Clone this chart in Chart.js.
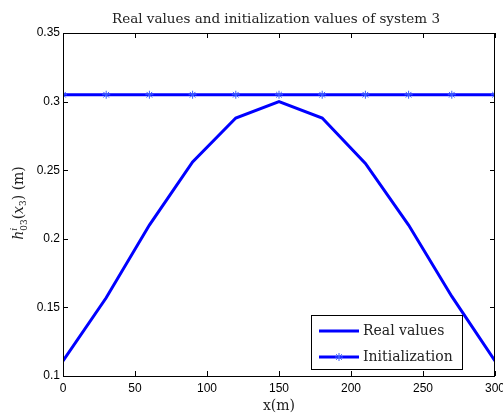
<!DOCTYPE html>
<html>
<head>
<meta charset="utf-8">
<script src="https://cdn.jsdelivr.net/npm/chart.js@4/dist/chart.umd.min.js"></script>
<style>
  html, body { margin: 0; padding: 0; background: #fff; }
  #wrap { width: 503px; height: 417px; }
</style>
</head>
<body>
<div id="wrap"><canvas id="chart" width="503" height="417"></canvas></div>
<script>
// data
var xPositions = [0, 30, 60, 90, 120, 150, 180, 210, 240, 270, 300];
var realValues = [0.111, 0.157, 0.210, 0.256, 0.288, 0.300, 0.288, 0.255, 0.210, 0.158, 0.111];
var initValues = [0.305, 0.305, 0.305, 0.305, 0.305, 0.305, 0.305, 0.305, 0.305, 0.305, 0.305];
var xTicks = [0, 50, 100, 150, 200, 250, 300];
var yTicks = [0.1, 0.15, 0.2, 0.25, 0.3, 0.35];
var seriesNames = ['Real values', 'Initialization'];

var serif = '"DejaVu Serif", "Liberation Serif", serif';
var sans = '"Liberation Sans", Arial, sans-serif';

function toPoints(vals) {
    return vals.map(function(v, i) { return { x: xPositions[i], y: v }; });
}

// box, inward ticks, title, axis labels, legend
var decorations = {
    id: 'decorations',
    afterDraw: function(chart) {
        var ctx = chart.ctx;
        var a = chart.chartArea;
        var xs = chart.scales.x, ys = chart.scales.y;
        ctx.save();
        ctx.strokeStyle = '#000';
        ctx.lineWidth = 1;
        ctx.strokeRect(a.left + 0.5, a.top + 0.5, a.right - a.left - 1, a.bottom - a.top);
        ctx.beginPath();
        xTicks.forEach(function(t) {
            var px = Math.round(xs.getPixelForValue(t)) + 0.5;
            ctx.moveTo(px, a.bottom); ctx.lineTo(px, a.bottom - 5);
            ctx.moveTo(px, a.top); ctx.lineTo(px, a.top + 5);
        });
        yTicks.forEach(function(t) {
            var py = Math.round(ys.getPixelForValue(t)) + 0.5;
            ctx.moveTo(a.left, py); ctx.lineTo(a.left + 5, py);
            ctx.moveTo(a.right, py); ctx.lineTo(a.right - 5, py);
        });
        ctx.stroke();

        // title
        ctx.fillStyle = '#222';
        ctx.textAlign = 'center';
        ctx.textBaseline = 'middle';
        ctx.font = '13.5px ' + serif;
        ctx.fillText('Real values and initialization values of system 3', 276, 19);

        // x label
        ctx.font = '14px ' + serif;
        ctx.fillText('x(m)', 279, 406);

        // y label: h^i_03(x_3) (m)
        ctx.save();
        ctx.translate(19, 203);
        ctx.rotate(-Math.PI / 2);
        ctx.textAlign = 'left';
        ctx.textBaseline = 'alphabetic';
        var parts = [
            { t: 'h', f: 'italic 14px ' + serif, dy: 4 },
            { t: 'i', f: 'italic 9px ' + serif, dy: -2, keep: true },
            { t: '03', f: '9px ' + serif, dy: 8 },
            { t: '(', f: '14px ' + serif, dy: 4 },
            { t: 'x', f: 'italic 14px ' + serif, dy: 4 },
            { t: '3', f: '9px ' + serif, dy: 7 },
            { t: ') (m)', f: '14px ' + serif, dy: 4 }
        ];
        var total = 0;
        parts.forEach(function(p) {
            ctx.font = p.f;
            p.w = ctx.measureText(p.t).width;
            if (!p.keep) total += p.w;
        });
        var cx = -total / 2;
        parts.forEach(function(p) {
            ctx.font = p.f;
            ctx.fillText(p.t, cx, p.dy);
            if (!p.keep) cx += p.w;
        });
        ctx.restore();

        // legend
        var lx = 311, ly = 315, lw = 151, lh = 54;
        ctx.fillStyle = '#fff';
        ctx.fillRect(lx, ly, lw, lh);
        ctx.strokeStyle = '#000';
        ctx.lineWidth = 1;
        ctx.strokeRect(lx + 0.5, ly + 0.5, lw, lh);
        var rows = [ly + 16, ly + 42];
        chart.data.datasets.forEach(function(ds, i) {
            var y = rows[i];
            ctx.strokeStyle = ds.borderColor;
            ctx.lineWidth = ds.borderWidth;
            ctx.beginPath();
            ctx.moveTo(lx + 8, y); ctx.lineTo(lx + 48, y);
            ctx.stroke();
            if (ds.pointRadius > 0) {
                ctx.strokeStyle = ds.pointBorderColor;
                ctx.lineWidth = ds.pointBorderWidth;
                Chart.helpers.drawPoint(ctx, {
                    pointStyle: ds.pointStyle, radius: ds.pointRadius,
                    borderWidth: ds.pointBorderWidth, rotation: 0
                }, lx + 28, y);
            }
            ctx.fillStyle = '#222';
            ctx.font = '14px ' + serif;
            ctx.textAlign = 'left';
            ctx.textBaseline = 'middle';
            ctx.fillText(ds.label, lx + 52, y);
        });
        ctx.restore();
    }
};

new Chart(document.getElementById('chart'), {
    type: 'line',
    data: {
        datasets: [{
            label: seriesNames[0],
            data: toPoints(realValues),
            borderColor: '#0000ff',
            backgroundColor: '#0000ff',
            borderWidth: 3,
            pointRadius: 0,
            tension: 0
        }, {
            label: seriesNames[1],
            data: toPoints(initValues),
            borderColor: '#0000ff',
            backgroundColor: '#0000ff',
            borderWidth: 3,
            pointStyle: 'star',
            pointRadius: 4,
            pointBorderWidth: 1,
            pointBorderColor: '#3a5cff',
            tension: 0
        }]
    },
    options: {
        responsive: false,
        animation: false,
        layout: { padding: { top: 33, right: 8, left: 0, bottom: 0 } },
        plugins: { legend: { display: false }, tooltip: { enabled: false } },
        scales: {
            x: {
                type: 'linear',
                min: 0, max: 300,
                afterBuildTicks: function(s) { s.ticks = xTicks.map(function(v) { return { value: v }; }); },
                afterFit: function(s) { s.height = 41; s.paddingLeft = 0; s.paddingRight = 0; },
                grid: { display: false, drawTicks: false },
                border: { display: false },
                ticks: { color: '#000', padding: 5, maxRotation: 0, font: { family: sans, size: 12 } }
            },
            y: {
                min: 0.1, max: 0.35,
                afterBuildTicks: function(s) { s.ticks = yTicks.map(function(v) { return { value: v }; }); },
                afterFit: function(s) { s.width = 63; s.paddingTop = 0; s.paddingBottom = 0; },
                grid: { display: false, drawTicks: false },
                border: { display: false },
                ticks: {
                    color: '#000', padding: 3, font: { family: sans, size: 12 },
                    callback: function(v) { return String(+v.toFixed(2)); }
                }
            }
        }
    },
    plugins: [decorations]
});
</script>
</body>
</html>
